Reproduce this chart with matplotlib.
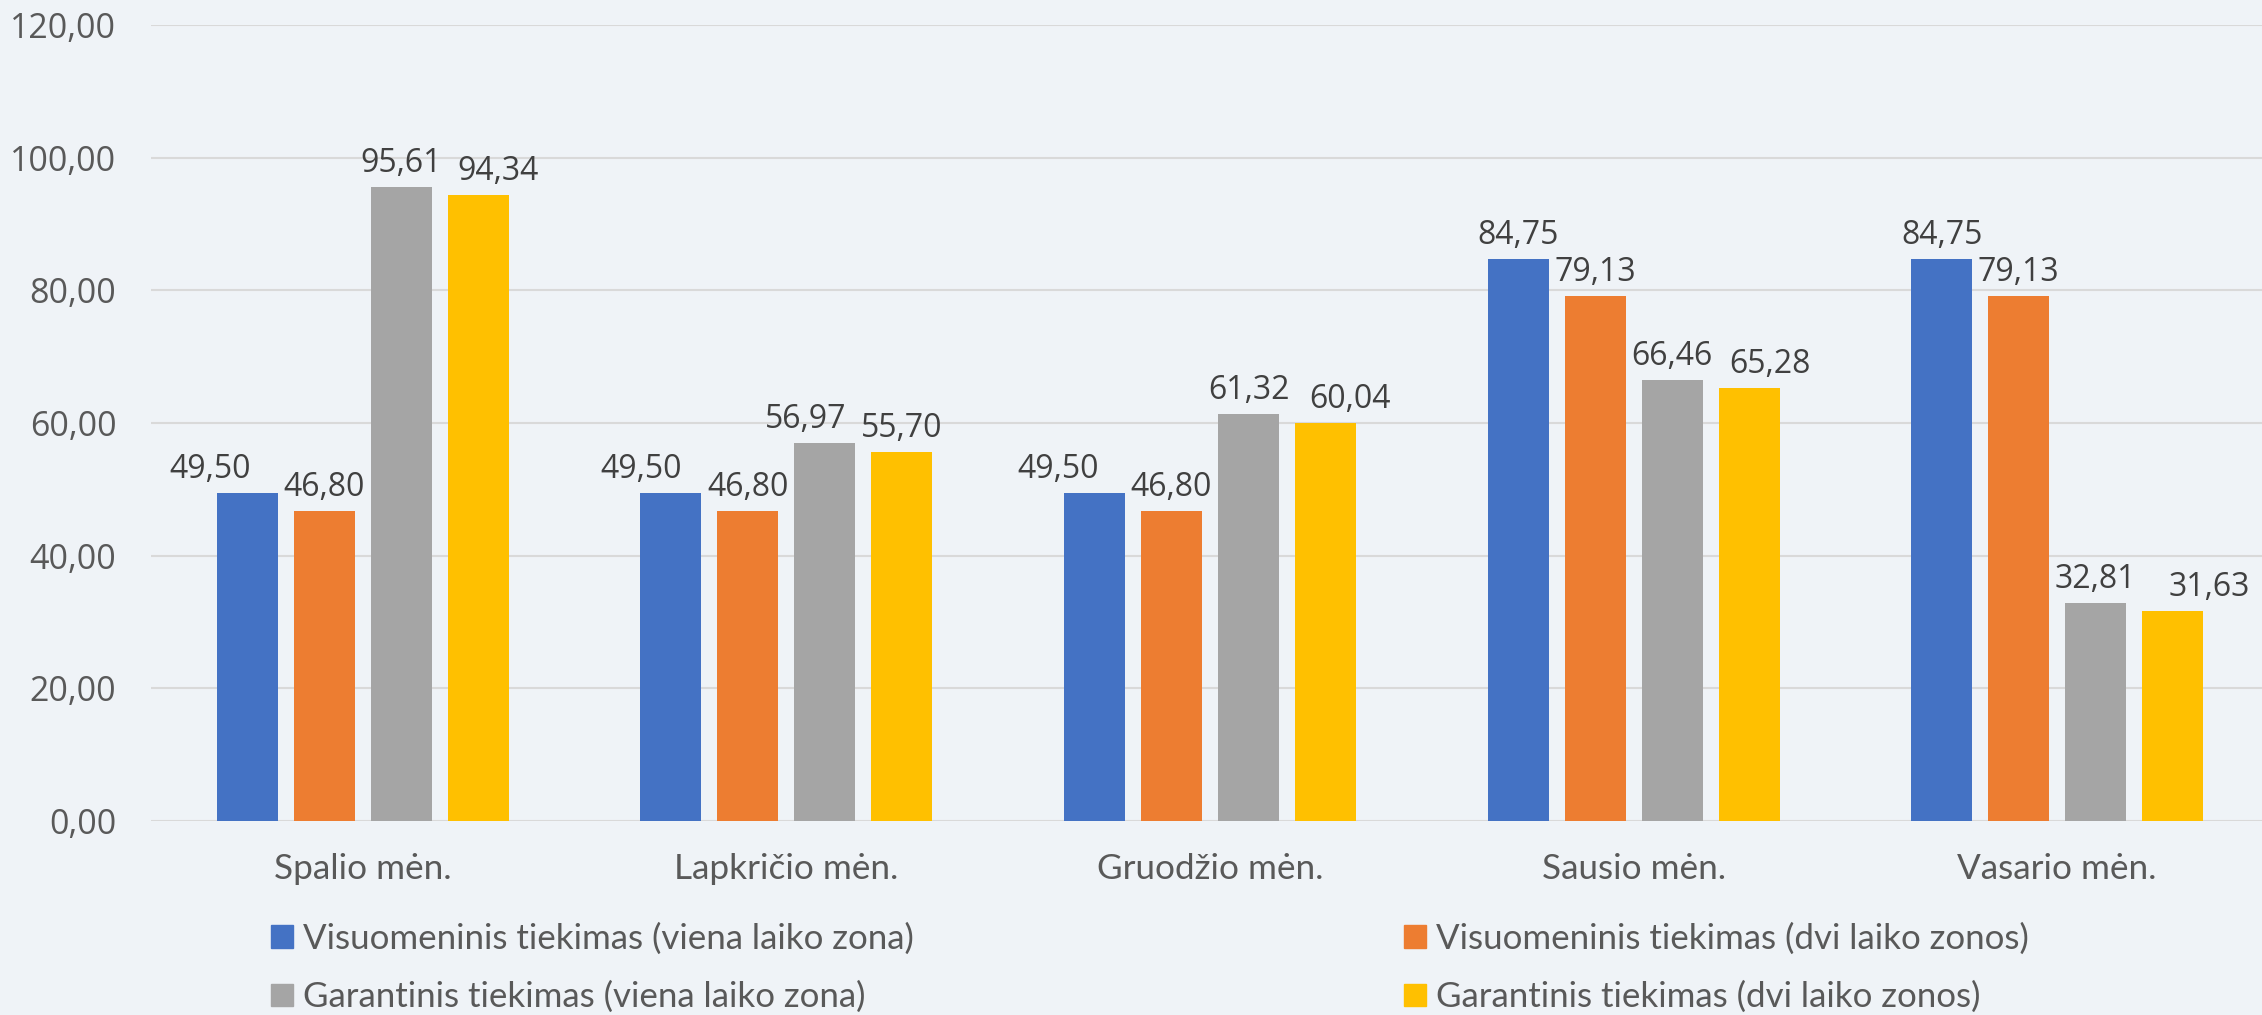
import matplotlib
matplotlib.use("Agg")
import matplotlib.pyplot as plt
from matplotlib.patches import Patch
import numpy as np

categories = ["Spalio mėn.", "Lapkričio mėn.", "Gruodžio mėn.", "Sausio mėn.", "Vasario mėn."]
series_names = [
    "Visuomeninis tiekimas (viena laiko zona)",
    "Visuomeninis tiekimas (dvi laiko zonos)",
    "Garantinis tiekimas (viena laiko zona)",
    "Garantinis tiekimas (dvi laiko zonos)",
]
visuom_viena = [49.50, 49.50, 49.50, 84.75, 84.75]
visuom_dvi = [46.80, 46.80, 46.80, 79.13, 79.13]
garant_viena = [95.61, 56.97, 61.32, 66.46, 32.81]
garant_dvi = [94.34, 55.70, 60.04, 65.28, 31.63]
series_values = [visuom_viena, visuom_dvi, garant_viena, garant_dvi]
colors = ["#4472C4", "#ED7D31", "#A5A5A5", "#FFC000"]
y_ticks = [0, 20, 40, 60, 80, 100, 120]

# label nudges (pixels) that mimic the original chart's collision avoidance; [series][category]
label_nudge_px = [
    [-37, -30, -36, 0, 0],
    [0, 0, 0, 0, 0],
    [0, -19, 0, 0, 0],
    [20, 0, 24, 21, 37],
]

BG = "#EFF3F7"
W, H = 2262, 1015
fig = plt.figure(figsize=(W / 100, H / 100), dpi=100, facecolor=BG)
ax_left, ax_right = 151, 2262
ax_top, ax_bottom = 25, 821
ax = fig.add_axes([ax_left / W, 1 - ax_bottom / H, (ax_right - ax_left) / W, (ax_bottom - ax_top) / H])
ax.set_facecolor(BG)

x = np.arange(len(categories))
step = 0.1818
width = 0.144
for j, (vals, col) in enumerate(zip(series_values, colors)):
    pos = x + (j - 1.5) * step
    bars = ax.bar(pos, vals, width=width, color=col, zorder=3, label=series_names[j])
    for i, (b, v) in enumerate(zip(bars, vals)):
        ax.annotate(f"{v:.2f}".replace(".", ","),
                    (b.get_x() + b.get_width() / 2, b.get_height()),
                    xytext=(label_nudge_px[j][i] * 0.72, 5), textcoords="offset points",
                    ha="center", va="bottom", fontsize=23,
                    family="Open Sans", color="#404040", zorder=4)

ax.set_xlim(-0.5, -0.5 + (ax_right - ax_left) / 423.6)
ax.set_ylim(0, 120)
ax.set_yticks(y_ticks)
ax.set_yticklabels([f"{t:.2f}".replace(".", ",") for t in y_ticks],
                   fontsize=24.5, family="Open Sans", color="#595959")
ax.set_xticks(x)
ax.set_xticklabels(categories, fontsize=25.3, family="Lato", color="#595959")
ax.tick_params(axis="both", length=0)
ax.tick_params(axis="y", pad=25)
ax.tick_params(axis="x", pad=23)
for s in ax.spines.values():
    s.set_visible(False)
ax.yaxis.grid(True, color="#D9D9D9", linewidth=1.5, zorder=0)
ax.set_axisbelow(True)

fs = 25.1
fs_px = fs * 100 / 72
common = dict(frameon=False, handlelength=22 / fs_px, handleheight=22 / fs_px,
              handletextpad=0.3, labelspacing=0.75, borderpad=0, borderaxespad=0,
              prop={"family": "Lato", "size": fs})
hA = [Patch(color=colors[0]), Patch(color=colors[2])]
hB = [Patch(color=colors[1]), Patch(color=colors[3])]
y_mid = 1 - ((938 + 998) / 2) / H
legA = fig.legend(hA, [series_names[0], series_names[2]], loc="center left",
                  bbox_to_anchor=(271 / W, y_mid), **common)
legB = fig.legend(hB, [series_names[1], series_names[3]], loc="center left",
                  bbox_to_anchor=(1404 / W, y_mid), **common)
for leg in (legA, legB):
    for t in leg.get_texts():
        t.set_color("#595959")

fig.savefig("out.png", dpi=100, facecolor=BG)
